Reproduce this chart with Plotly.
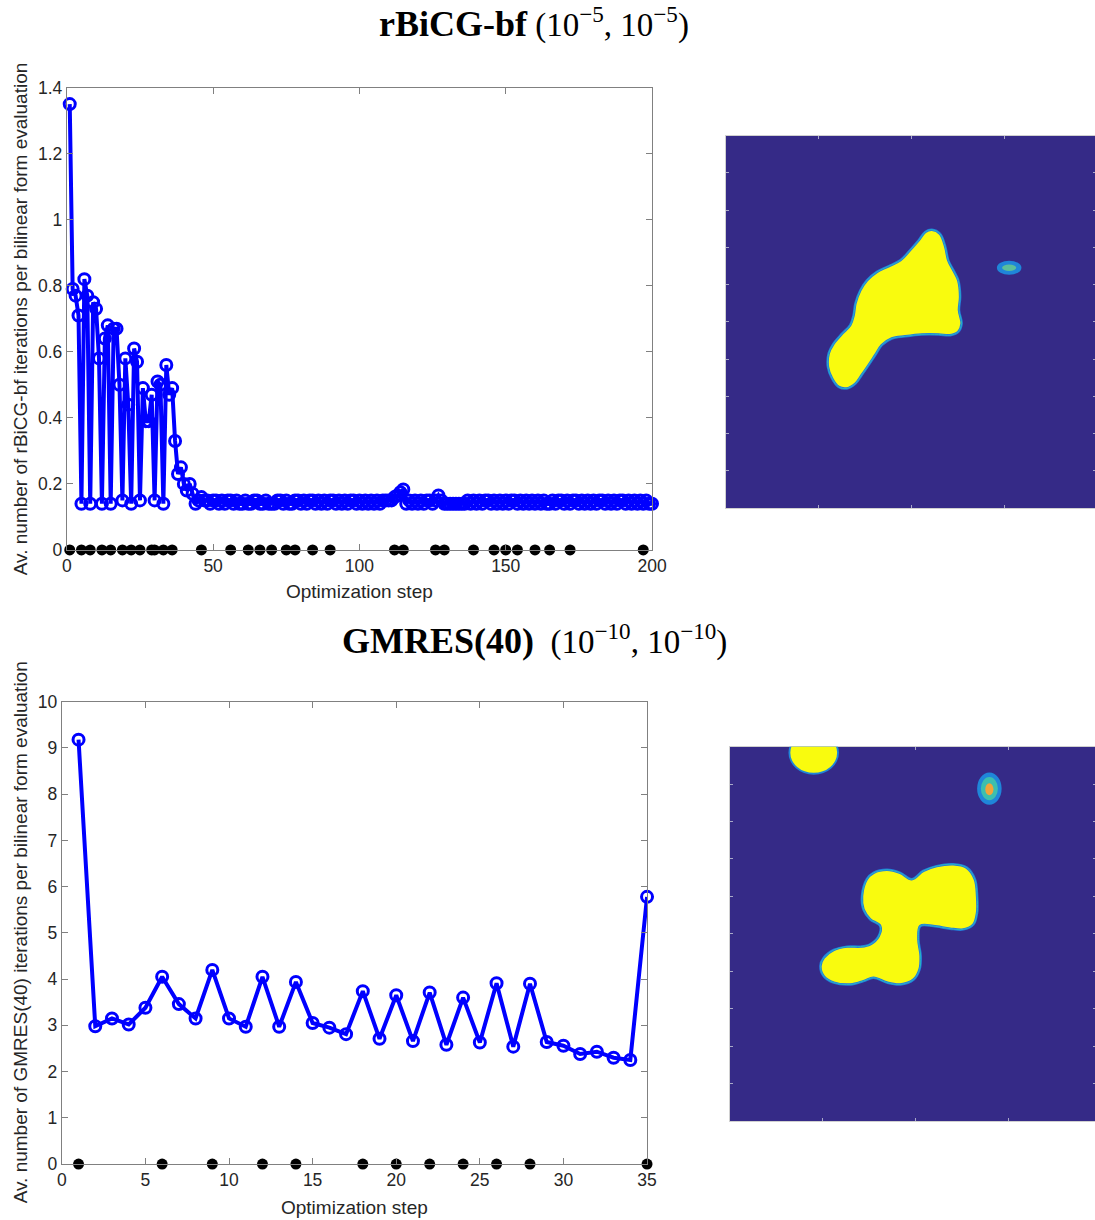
import plotly.graph_objects as go

# ---------------- data: rBiCG-bf ----------------
bicg_steps = list(range(1, 201))
bicg_vals = [
    1.35, 0.79, 0.77, 0.71, 0.14, 0.82, 0.77, 0.14, 0.75, 0.73,
    0.58, 0.14, 0.64, 0.68, 0.14, 0.67, 0.67, 0.50, 0.15, 0.58,
    0.44, 0.14, 0.61, 0.57, 0.15, 0.49, 0.39, 0.39, 0.47, 0.15,
    0.51, 0.50, 0.14, 0.56, 0.47, 0.49, 0.33, 0.23, 0.25, 0.20,
    0.18, 0.20, 0.17, 0.14, 0.15, 0.16, 0.15, 0.15, 0.14, 0.15,
    0.15, 0.14, 0.15, 0.14, 0.15, 0.15, 0.14, 0.15, 0.14, 0.14,
    0.15, 0.14, 0.14, 0.15, 0.15, 0.14, 0.14, 0.15, 0.14, 0.14,
    0.14, 0.15, 0.15, 0.14, 0.15, 0.14, 0.14, 0.15, 0.15, 0.14,
    0.15, 0.14, 0.15, 0.15, 0.14, 0.15, 0.14, 0.15, 0.14, 0.15,
    0.15, 0.14, 0.15, 0.14, 0.15, 0.14, 0.15, 0.15, 0.14, 0.15,
    0.14, 0.15, 0.14, 0.15, 0.14, 0.15, 0.14, 0.15, 0.15, 0.15,
    0.15, 0.16, 0.165, 0.175, 0.183, 0.14, 0.15, 0.14, 0.15, 0.14,
    0.15, 0.14, 0.15, 0.15, 0.14, 0.15, 0.165, 0.15, 0.14, 0.14,
    0.14, 0.14, 0.14, 0.14, 0.14, 0.14, 0.15, 0.14, 0.15, 0.14,
    0.15, 0.14, 0.15, 0.15, 0.14, 0.15, 0.14, 0.15, 0.14, 0.15,
    0.14, 0.15, 0.15, 0.14, 0.15, 0.14, 0.15, 0.14, 0.15, 0.14,
    0.15, 0.14, 0.15, 0.14, 0.14, 0.15, 0.14, 0.15, 0.15, 0.14,
    0.15, 0.14, 0.15, 0.15, 0.14, 0.15, 0.14, 0.15, 0.14, 0.15,
    0.14, 0.15, 0.15, 0.14, 0.15, 0.14, 0.15, 0.14, 0.15, 0.15,
    0.14, 0.15, 0.14, 0.15, 0.14, 0.15, 0.14, 0.15, 0.14, 0.14,
]
bicg_marks = [1, 5, 8, 12, 15, 19, 22, 25, 29, 30, 33, 36, 46, 56, 62, 66, 70,
              75, 78, 84, 90, 112, 115, 126, 129, 139, 146, 150, 154, 160, 165,
              172, 197]
bicg_xticks = [0, 50, 100, 150, 200]
bicg_yticks = [0, 0.2, 0.4, 0.6, 0.8, 1.0, 1.2, 1.4]
bicg_yticktext = ["0", "0.2", "0.4", "0.6", "0.8", "1", "1.2", "1.4"]

# ---------------- data: GMRES(40) ----------------
gm_steps = list(range(1, 36))
gm_vals = [9.18, 2.98, 3.15, 3.02, 3.38, 4.05, 3.46, 3.15, 4.20, 3.15,
           2.97, 4.05, 2.97, 3.94, 3.05, 2.95, 2.81, 3.74, 2.71, 3.65,
           2.66, 3.71, 2.58, 3.60, 2.63, 3.91, 2.54, 3.90, 2.64, 2.56,
           2.38, 2.43, 2.30, 2.25, 5.78]
gm_marks = [1, 6, 9, 12, 14, 18, 20, 22, 24, 26, 28, 35]
gm_xticks = [0, 5, 10, 15, 20, 25, 30, 35]
gm_yticks = list(range(0, 11))

# ---------------- data: level-set images (0..100 grid, y downward) ----------------
img1_blob_u = [55.5, 57.7, 59.1, 59.9, 61.3, 62.6, 63.1, 62.8, 63.5, 62.6, 60.4, 57.3,
               52.8, 48.3, 44.7, 42.0, 40.2, 38.4, 36.6, 34.9, 32.6, 30.4, 28.6, 27.5,
               27.7, 29.0, 31.3, 33.5, 34.4, 34.9, 36.2, 38.0, 40.7, 43.8, 47.0, 49.6,
               51.9, 53.7, 55.5]
img1_blob_v = [25.3, 26.4, 29.9, 33.5, 36.2, 38.9, 43.3, 46.9, 50.5, 52.7, 53.6, 53.4,
               53.4, 53.9, 54.5, 56.3, 59.0, 61.7, 64.3, 66.6, 67.9, 67.5, 65.2, 62.1,
               58.5, 55.9, 53.2, 50.9, 48.3, 45.1, 41.6, 38.9, 36.6, 35.1, 33.5, 30.8,
               28.2, 25.9, 25.3]
# spots: centre u, centre v, radius u, radius v, colour
img1_spots_u = [76.3, 76.3]
img1_spots_v = [35.5, 35.5]
img1_spots_ru = [3.3, 1.9]
img1_spots_rv = [1.9, 0.9]
img1_spots_col = ["#1f86d9", "#5cbf9a"]

img2_blob_u = [36.9, 38.7, 42.3, 45.9, 49.0, 52.1, 55.7, 60.2, 63.8, 66.0, 66.6, 66.6,
               65.6, 62.9, 59.3, 54.8, 51.3, 50.8, 51.4, 51.1, 49.5, 45.9, 42.3, 38.7,
               36.0, 32.5, 28.0, 25.3, 24.4, 25.3, 28.0, 31.6, 35.2, 37.8, 40.1, 40.5,
               37.8, 36.0, 35.6, 36.9]
img2_blob_v = [35.4, 33.7, 32.9, 33.7, 35.4, 33.2, 31.9, 31.4, 32.3, 35.4, 39.9, 44.3,
               47.5, 48.8, 48.6, 47.9, 47.9, 51.5, 55.9, 59.5, 62.2, 63.5, 63.0, 61.7,
               62.6, 63.5, 63.0, 61.3, 58.6, 56.4, 54.3, 53.4, 53.4, 52.8, 50.6, 47.9,
               46.1, 43.5, 39.9, 35.4]
img2_spots_u = [22.6, 22.6, 69.9, 69.9, 69.9]
img2_spots_v = [1.6, 1.6, 11.2, 11.2, 11.4]
img2_spots_ru = [6.8, 6.3, 3.3, 2.3, 1.1]
img2_spots_rv = [5.9, 5.4, 4.3, 3.1, 1.6]
img2_spots_col = ["#1f86d9", "#f9fb0e", "#1f86d9", "#3cbfae", "#f0a43a"]

BG = "#352a87"
YEL = "#f9fb0e"
EDGE_OUT = "#2478dc"
EDGE_IN = "#27b6c2"

W, H = 1111, 1220

fig = go.Figure()

# line plots
for xs, ys, xa, ya in [(bicg_steps, bicg_vals, "x", "y"), (gm_steps, gm_vals, "x2", "y2")]:
    fig.add_trace(go.Scatter(x=xs, y=ys, mode="lines+markers",
                             line=dict(color="#0000ff", width=4),
                             marker=dict(symbol="circle-open", size=11, color="#0000ff",
                                         line=dict(width=3, color="#0000ff")),
                             cliponaxis=False, xaxis=xa, yaxis=ya, showlegend=False))
for ms, xa, ya in [(bicg_marks, "x", "y"), (gm_marks, "x2", "y2")]:
    fig.add_trace(go.Scatter(x=ms, y=[0] * len(ms), mode="markers",
                             marker=dict(color="black", size=11), cliponaxis=False,
                             xaxis=xa, yaxis=ya, showlegend=False))

# images: blobs
for bu, bv, xa, ya in [(img1_blob_u, img1_blob_v, "x3", "y3"),
                       (img2_blob_u, img2_blob_v, "x4", "y4")]:
    fig.add_trace(go.Scatter(x=bu, y=bv, mode="lines", fill="toself", fillcolor=YEL,
                             line=dict(color=EDGE_OUT, width=2.5, shape="spline"),
                             xaxis=xa, yaxis=ya, showlegend=False, hoverinfo="skip"))
    fig.add_trace(go.Scatter(x=bu, y=bv, mode="lines",
                             line=dict(color=EDGE_IN, width=1, shape="spline"),
                             xaxis=xa, yaxis=ya, showlegend=False, hoverinfo="skip"))

shapes = []
for xa, ya in [("x3", "y3"), ("x4", "y4")]:
    shapes.append(dict(type="rect", xref=xa + " domain", yref=ya + " domain",
                       x0=0, x1=1, y0=0, y1=1, fillcolor=BG, line=dict(width=0),
                       layer="below"))
for us, vs, rus, rvs, cols, xa, ya in [
        (img1_spots_u, img1_spots_v, img1_spots_ru, img1_spots_rv, img1_spots_col, "x3", "y3"),
        (img2_spots_u, img2_spots_v, img2_spots_ru, img2_spots_rv, img2_spots_col, "x4", "y4")]:
    for u, v, ru, rv, c in zip(us, vs, rus, rvs, cols):
        shapes.append(dict(type="circle", xref=xa, yref=ya, x0=u - ru, x1=u + ru,
                           y0=v - rv, y1=v + rv, fillcolor=c, line=dict(width=0),
                           layer="above"))

tickfont = dict(family="Liberation Sans, Arial, sans-serif", size=17.5, color="#262626")
axis_common = dict(showline=True, linecolor="#808080", linewidth=1, mirror="ticks",
                   ticks="inside", ticklen=6, tickcolor="#808080", showgrid=False,
                   zeroline=False, tickfont=tickfont, fixedrange=True)
img_axis = dict(showline=True, linecolor="#d0d0d0", linewidth=1, mirror="ticks",
                ticks="inside", ticklen=3, tickcolor="#a8a8c8", showgrid=False,
                zeroline=False, showticklabels=False, fixedrange=True)


# the photographed page comes out slightly shrunk and offset; place things so
# that they land where the reference has them
def px_x(p):
    return ((p - 4.0) / 0.985) / W


def px_y(p):
    return 1 - ((p - 9.3) / 0.985) / H


# images are cut off by the right border of the picture
IMG_SPAN = 372.5


def img_range(left):
    return [0, 100 * (W - (left - 4.0) / 0.985) * 0.985 / IMG_SPAN]


fig.update_layout(
    width=W, height=H,
    margin=dict(l=0, r=0, t=0, b=0),
    paper_bgcolor="white", plot_bgcolor="white",
    showlegend=False,
    shapes=shapes,
    xaxis=dict(axis_common, domain=[px_x(66), px_x(653)], range=[0, 200],
               tickvals=bicg_xticks, anchor="y"),
    yaxis=dict(axis_common, domain=[px_y(550), px_y(87)], range=[0, 1.4],
               tickvals=bicg_yticks, ticktext=bicg_yticktext, anchor="x"),
    xaxis2=dict(axis_common, domain=[px_x(61), px_x(648)], range=[0, 35],
                tickvals=gm_xticks, anchor="y2"),
    yaxis2=dict(axis_common, domain=[px_y(1165), px_y(702)], range=[0, 10],
                tickvals=gm_yticks, anchor="x2"),
    xaxis3=dict(img_axis, domain=[px_x(727), 1.0], range=img_range(727),
                tickvals=[25, 50, 75], anchor="y3"),
    yaxis3=dict(img_axis, domain=[px_y(508), px_y(135)], range=[100, 0],
                tickvals=[10, 20, 30, 40, 50, 60, 70, 80, 90], anchor="x3"),
    xaxis4=dict(img_axis, domain=[px_x(731), 1.0], range=img_range(731),
                tickvals=[25, 50, 75], anchor="y4"),
    yaxis4=dict(img_axis, domain=[px_y(1122), px_y(747)], range=[100, 0],
                tickvals=[10, 20, 30, 40, 50, 60, 70, 80, 90], anchor="x4"),
)

serif = "Liberation Serif, DejaVu Serif, serif"
sans = "Liberation Sans, Arial, sans-serif"
annotations = [
    dict(text="<b><span style='font-size:36px'>rBiCG-bf</span></b> "
              "(10<sup>−5</sup>, 10<sup>−5</sup>)",
         x=px_x(535), y=px_y(22), font=dict(family=serif, size=33, color="black")),
    dict(text="<b><span style='font-size:36px'>GMRES(40)</span></b>  "
              "(10<sup>−10</sup>, 10<sup>−10</sup>)",
         x=px_x(535), y=px_y(640), font=dict(family=serif, size=33, color="black")),
    dict(text="Optimization step", x=px_x(360), y=px_y(592),
         font=dict(family=sans, size=19, color="#262626")),
    dict(text="Optimization step", x=px_x(355), y=px_y(1208),
         font=dict(family=sans, size=19, color="#262626")),
    dict(text="Av. number of rBiCG-bf iterations per bilinear form evaluation",
         x=px_x(19), y=px_y(318), textangle=-90,
         font=dict(family=sans, size=19, color="#262626")),
    dict(text="Av. number of GMRES(40) iterations per bilinear form evaluation",
         x=px_x(19), y=px_y(933), textangle=-90,
         font=dict(family=sans, size=19, color="#262626")),
]
for a in annotations:
    a.update(xref="paper", yref="paper", showarrow=False, xanchor="center",
             yanchor="middle")
fig.update_layout(annotations=annotations)

fig.write_html("out.html")
